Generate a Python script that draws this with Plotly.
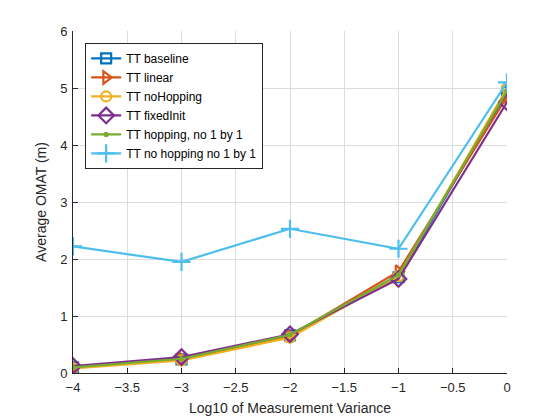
import plotly.graph_objects as go

x = [-4, -3, -2, -1, 0]
names = ["TT baseline", "TT linear", "TT noHopping", "TT fixedInit",
         "TT hopping, no 1 by 1", "TT no hopping no 1 by 1"]
baseline = [0.10, 0.24, 0.66, 1.68, 4.93]
linear = [0.10, 0.25, 0.65, 1.78, 4.85]
noHopping = [0.08, 0.22, 0.62, 1.70, 5.00]
fixedInit = [0.12, 0.28, 0.68, 1.65, 4.75]
hopping_no1by1 = [0.10, 0.25, 0.67, 1.72, 4.95]
nohopping_no1by1 = [2.22, 1.95, 2.53, 2.18, 5.10]

series = [baseline, linear, noHopping, fixedInit, hopping_no1by1, nohopping_no1by1]
colors = ["#0072BD", "#D95319", "#EDB120", "#7E2F8E", "#77AC30", "#4DBEEE"]
symbols = ["square-open", "triangle-right-open", "circle-open", "diamond-open", "circle", "cross-thin-open"]
sizes = [10, 11, 10, 12, 3, 13]

fig = go.Figure()
for name, ys, c, s, sz in zip(names, series, colors, symbols, sizes):
    fig.add_trace(go.Scatter(
        x=x, y=ys, name=name, mode="lines+markers",
        line=dict(color=c, width=2.2),
        marker=dict(symbol=s, size=sz, color=c, line=dict(color=c, width=2.2)),
    ))

axis_common = dict(
    showgrid=True, gridcolor="#dcdcdc", gridwidth=1,
    showline=True, linecolor="#262626", linewidth=1,
    ticks="inside", ticklen=5, tickcolor="#262626",
    zeroline=False, mirror=False, automargin=False,
    tickfont=dict(family="Liberation Sans, Arial", size=13, color="#262626"),
)
fig.update_xaxes(range=[-4, 0], dtick=0.5, tick0=-4, ticklabelstandoff=2,
                 title=dict(text="Log10 of Measurement Variance", standoff=9,
                            font=dict(family="Liberation Sans, Arial", size=14, color="#262626")),
                 **axis_common)
fig.update_yaxes(range=[0, 6], dtick=1, ticklabelstandoff=2,
                 title=dict(text="Average OMAT (m)", standoff=10,
                            font=dict(family="Liberation Sans, Arial", size=14, color="#262626")),
                 **axis_common)

fig.update_layout(
    width=560, height=420,
    margin=dict(l=73, r=53, t=31, b=47),
    plot_bgcolor="white", paper_bgcolor="white",
    showlegend=True,
    legend=dict(x=0.028, y=0.965, xanchor="left", yanchor="top",
                bordercolor="#262626", borderwidth=1, bgcolor="white",
                font=dict(family="Liberation Sans, Arial", size=12, color="#000000"),
                itemwidth=30, tracegroupgap=0),
)

fig.write_html("out.html")
